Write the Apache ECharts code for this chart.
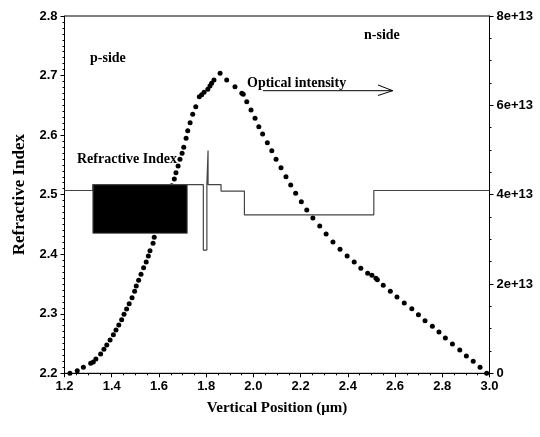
<!DOCTYPE html>
<html>
<head>
<meta charset="utf-8">
<script src="https://cdn.jsdelivr.net/npm/echarts@6/dist/echarts.min.js"></script>
<style>html,body{margin:0;padding:0;background:#fff}#c{width:540px;height:437px}</style>
</head>
<body>
<div id="c"></div>
<script>
// Refractive index profile (step line): [position µm, index]
const indexProfile = [
  [1.2,2.507],[1.32,2.507],[1.32,2.517],[1.72,2.517],[1.788,2.517],[1.788,2.407],
  [1.803,2.407],[1.803,2.517],[1.808,2.517],[1.808,2.574],[1.808,2.517],[1.863,2.517],
  [1.863,2.506],[1.962,2.506],[1.962,2.466],[2.51,2.466],[2.51,2.507],[3.0,2.507]
];
// Black block (dense QW region): x range and index range
const blockX = [1.32, 1.72];
const blockY = [2.435, 2.517];
// Optical intensity dots: position (µm)
const intensityX = [
  1.223,1.254,1.280,1.311,1.322,1.333,1.353,1.367,1.379,1.393,1.407,1.418,1.430,1.442,1.452,1.463,1.474,
  1.486,1.497,1.504,1.514,1.524,1.535,1.546,1.555,1.562,1.575,1.580,
  1.654,1.665,1.672,1.681,1.689,1.698,1.705,1.715,1.722,1.732,1.743,1.756,1.771,1.781,1.791,1.807,1.816,1.823,1.833,
  1.859,1.887,1.922,1.951,1.957,1.972,1.990,2.007,2.023,2.039,2.059,2.078,2.096,2.117,2.138,2.158,2.179,
  2.203,2.226,2.252,2.281,2.308,2.337,2.367,2.397,2.427,2.455,2.484,2.502,2.519,2.525,2.550,2.580,2.608,
  2.639,2.671,2.699,2.727,2.758,2.786,2.813,2.843,2.874,2.902,2.931,2.960,2.988
];
// Optical intensity values (units of 1e13)
const intensityY = [
  0.00,0.058,0.134,0.224,0.253,0.320,0.432,0.537,0.634,0.746,0.864,0.969,1.081,1.200,1.321,1.440,1.558,
  1.693,1.836,1.955,2.082,2.217,2.364,2.492,2.626,2.745,2.911,3.045,
  4.200,4.350,4.491,4.641,4.791,4.926,5.060,5.261,5.432,5.611,5.799,5.969,6.193,6.238,6.292,6.359,6.433,6.493,6.567,
  6.717,6.567,6.417,6.269,6.247,6.081,5.895,5.710,5.521,5.358,5.163,4.984,4.791,4.603,4.402,4.216,4.030,
  3.842,3.656,3.477,3.298,3.119,2.940,2.776,2.626,2.492,2.351,2.239,2.194,2.127,2.096,1.970,1.836,1.708,
  1.574,1.446,1.312,1.178,1.052,0.925,0.790,0.656,0.522,0.387,0.269,0.134,0.000
];
const leftTicks = {min: 2.2, max: 2.8, interval: 0.1};
const rightTicks = {min: 0, max: 8, interval: 2};
const xTicks = {min: 1.2, max: 3.0, interval: 0.2};

const chart = echarts.init(document.getElementById('c'));
const serif = '"Liberation Serif","Times New Roman",serif';
const sans = '"Liberation Sans",Arial,sans-serif';
const tickLbl = {fontFamily: sans, fontWeight: 'bold', fontSize: 13, color: '#000'};
chart.setOption({
  animation: false,
  grid: {left: 64.5, right: 50.5, top: 16, bottom: 63.7, show: true, borderColor: '#000', borderWidth: 1},
  xAxis: {
    type: 'value', min: xTicks.min, max: xTicks.max, interval: xTicks.interval,
    name: 'Vertical Position (μm)', nameLocation: 'middle', nameGap: 27,
    nameTextStyle: {fontFamily: serif, fontWeight: 'bold', fontSize: 15, color: '#000'},
    axisLine: {lineStyle: {color: '#000'}},
    axisTick: {length: 4, lineStyle: {color: '#000'}},
    minorTick: {show: true, splitNumber: 4, length: 2, lineStyle: {color: '#000'}},
    splitLine: {show: false},
    axisLabel: Object.assign({margin: 7, formatter: v => v.toFixed(1)}, tickLbl)
  },
  yAxis: [{
    type: 'value', min: leftTicks.min, max: leftTicks.max, interval: leftTicks.interval,
    name: 'Refractive Index', nameLocation: 'middle', nameGap: 32,
    nameTextStyle: {fontFamily: serif, fontWeight: 'bold', fontSize: 17, color: '#000'},
    axisLine: {show: true, lineStyle: {color: '#000'}},
    axisTick: {show: true, length: 4, lineStyle: {color: '#000'}},
    minorTick: {show: true, splitNumber: 10, length: 2, lineStyle: {color: '#000'}},
    splitLine: {show: false},
    axisLabel: Object.assign({margin: 7, formatter: v => v.toFixed(1)}, tickLbl)
  }, {
    type: 'value', min: rightTicks.min, max: rightTicks.max, interval: rightTicks.interval,
    position: 'right',
    axisLine: {show: true, lineStyle: {color: '#000'}},
    axisTick: {show: true, length: 4, lineStyle: {color: '#000'}},
    minorTick: {show: true, splitNumber: 4, length: 2, lineStyle: {color: '#000'}},
    splitLine: {show: false},
    axisLabel: Object.assign({margin: 7, formatter: v => v === 0 ? '0' : Math.round(v) + 'e+13'}, tickLbl)
  }],
  series: [{
    type: 'scatter', yAxisIndex: 1, z: 2,
    symbolSize: 5, itemStyle: {color: '#000', opacity: 1},
    data: intensityX.map((x, i) => [x, intensityY[i]])
  }, {
    type: 'line', yAxisIndex: 0, z: 5, symbol: 'none',
    lineStyle: {color: '#444', width: 1.2},
    data: indexProfile,
    markArea: {
      silent: true,
      itemStyle: {color: '#000', opacity: 1, borderColor: '#666', borderWidth: 1},
      data: [[{coord: [blockX[0], blockY[1]]}, {coord: [blockX[1], blockY[0]]}]]
    }
  }],
  graphic: [
    {type: 'text', left: 90, top: 51, z: 10, style: {text: 'p-side', font: 'bold 14px ' + serif, fill: '#000'}},
    {type: 'text', left: 364, top: 28, z: 10, style: {text: 'n-side', font: 'bold 14px ' + serif, fill: '#000'}},
    {type: 'text', left: 77, top: 152, z: 10, style: {text: 'Refractive Index', font: 'bold 14px ' + serif, fill: '#000'}},
    {type: 'text', left: 247, top: 76, z: 10, style: {text: 'Optical intensity', font: 'bold 14px ' + serif, fill: '#000'}},
    {type: 'polyline', z: 10, shape: {points: [[263, 90.7], [392.7, 90.7]]}, style: {stroke: '#000', lineWidth: 1}},
    {type: 'polyline', z: 10, shape: {points: [[378, 85], [392.7, 90.7], [378, 95.5]]}, style: {stroke: '#000', lineWidth: 1, fill: null}}
  ]
});
</script>
</body>
</html>
